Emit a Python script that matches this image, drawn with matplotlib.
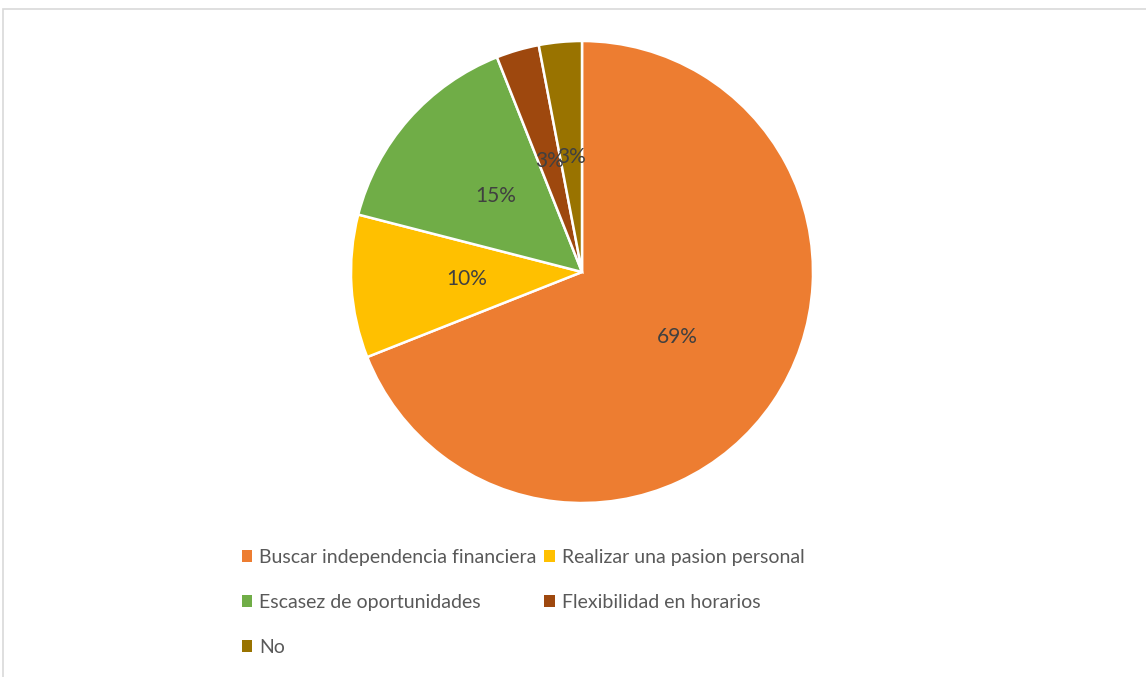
import matplotlib
matplotlib.use("Agg")
import matplotlib.pyplot as plt
from matplotlib.patches import Rectangle, Patch

plt.rcParams['font.family'] = ['Lato', 'DejaVu Sans']

# datos
categorias = ['Buscar independencia financiera', 'Realizar una pasion personal',
              'Escasez de oportunidades', 'Flexibilidad en horarios', 'No']
valores = [69, 10, 15, 3, 3]
colores = ['#ED7D31', '#FFC000', '#70AD47', '#9E480E', '#997300']

W, H = 1146, 677
fig = plt.figure(figsize=(W / 100, H / 100), dpi=100)

# marco gris del grafico (solo se ven el borde superior e izquierdo)
fig.patches.append(Rectangle((3 / W, -0.2), 1.2, 1.2 - 9 / H, transform=fig.transFigure,
                             fill=False, edgecolor='#D9D9D9', linewidth=1.2))

# pie: centro (582, 272), radio 231 px
cx, cy, r = 582, 272, 231
ax = fig.add_axes([(cx - r) / W, (H - cy - r) / H, 2 * r / W, 2 * r / H])
wedges, textos, pcts = ax.pie(valores, colors=colores, startangle=90, counterclock=False,
                              autopct='%1.0f%%', pctdistance=0.5, radius=1,
                              wedgeprops=dict(edgecolor='white', linewidth=1.8),
                              textprops=dict(color='#404040', fontsize=15))
ax.set_xlim(-1, 1)
ax.set_ylim(-1, 1)
ax.set_aspect('equal')
ax.axis('off')

# leyenda (orden por columnas para que quede por filas)
orden = [0, 2, 4, 1, 3]
handles = [Patch(facecolor=colores[i], edgecolor='none') for i in orden]
etiquetas = [categorias[i] for i in orden]
fig.legend(handles, etiquetas, ncol=2, loc='upper left',
           bbox_to_anchor=(234 / W, 1 - 541 / H), frameon=False,
           fontsize=14, labelcolor='#595959', handlelength=0.55, handleheight=0.55,
           handletextpad=0.35, columnspacing=0.4, labelspacing=1.45, borderaxespad=0)

fig.savefig('out.png', dpi=100)
